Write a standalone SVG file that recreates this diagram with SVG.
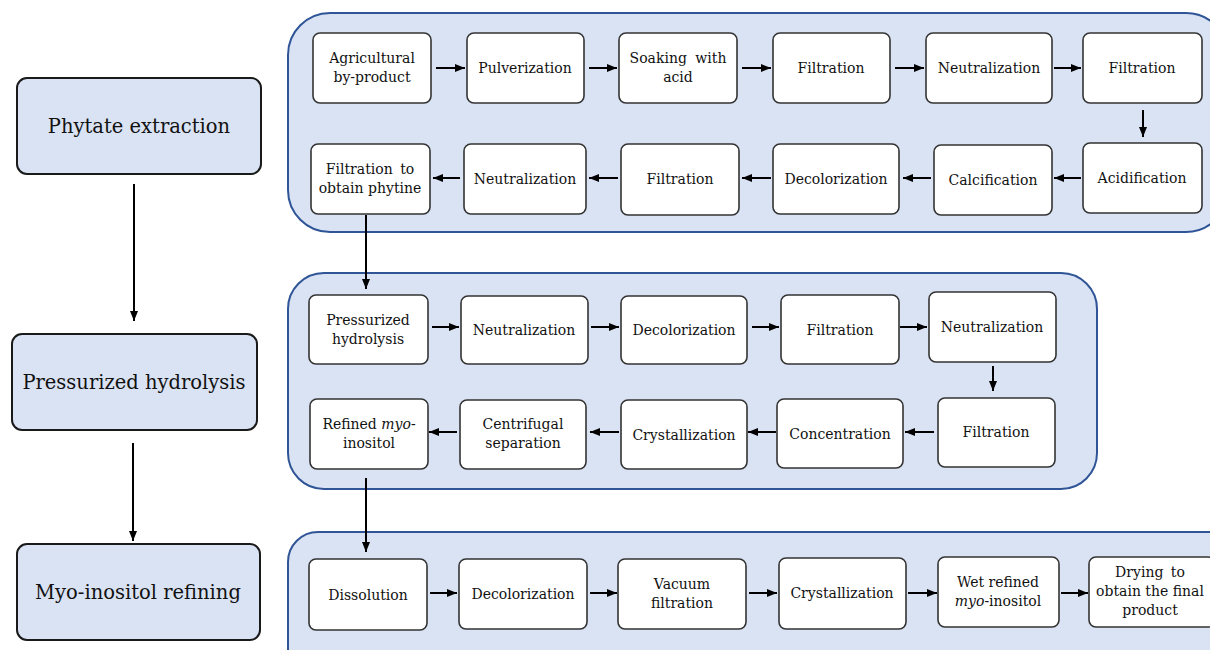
<svg xmlns="http://www.w3.org/2000/svg" width="1210" height="650" viewBox="0 0 1210 650">
<style>
.cont{fill:#DAE3F3;stroke:#2F5597;stroke-width:2}
.stage{fill:#DAE3F3;stroke:#1a1a1a;stroke-width:2}
.box{fill:#ffffff;stroke:#333333;stroke-width:1.6}
.t{font-family:'DejaVu Serif',serif;font-size:14px;fill:#111;text-anchor:middle}
.big{font-family:'DejaVu Serif',serif;font-size:19.5px;fill:#111;text-anchor:middle}
.c line{stroke:#000;stroke-width:2;marker-end:url(#ah)}
</style>
<defs>
<marker id="ah" viewBox="0 0 10 8" refX="10" refY="4" markerWidth="5" markerHeight="4" markerUnits="strokeWidth" orient="auto">
<path d="M0,0 L10,4 L0,8 z" fill="#000"/>
</marker>
</defs>
<rect width="1210" height="650" fill="#ffffff"/>

<g id="containers">
<rect id="cont1" class="cont" x="288" y="13" width="940" height="219" rx="42"/>
<rect id="cont2" class="cont" x="288" y="273" width="809" height="216" rx="36"/>
<rect id="cont3" class="cont" x="288" y="532" width="950" height="150" rx="30"/>
</g>

<g id="stage1"><rect class="stage" x="17" y="78" width="244" height="96" rx="10"/><text class="big" x="139" y="133">Phytate extraction</text></g>
<g id="stage2"><rect class="stage" x="12" y="334" width="245" height="96" rx="10"/><text class="big" x="134" y="389">Pressurized hydrolysis</text></g>
<g id="stage3"><rect class="stage" x="17" y="544" width="243" height="96" rx="10"/><text class="big" x="138" y="599">Myo-inositol refining</text></g>

<g id="n1"><rect class="box" x="313" y="33" width="118" height="70" rx="7"/><text class="t" x="372" y="63">Agricultural</text><text class="t" x="372" y="82">by-product</text></g>
<g id="n2"><rect class="box" x="467" y="33" width="117" height="70" rx="7"/><text class="t" x="525" y="73">Pulverization</text></g>
<g id="n3"><rect class="box" x="619" y="33" width="118" height="70" rx="7"/><text class="t" x="678" y="63" word-spacing="4">Soaking with</text><text class="t" x="678" y="82">acid</text></g>
<g id="n4"><rect class="box" x="773" y="33" width="117" height="70" rx="7"/><text class="t" x="831" y="73">Filtration</text></g>
<g id="n5"><rect class="box" x="926" y="33" width="126" height="70" rx="7"/><text class="t" x="989" y="73">Neutralization</text></g>
<g id="n6"><rect class="box" x="1083" y="33" width="119" height="70" rx="7"/><text class="t" x="1142" y="73">Filtration</text></g>
<g id="n7"><rect class="box" x="1083" y="143" width="119" height="70" rx="7"/><text class="t" x="1142" y="183">Acidification</text></g>
<g id="n8"><rect class="box" x="934" y="145" width="118" height="70" rx="7"/><text class="t" x="993" y="185">Calcification</text></g>
<g id="n9"><rect class="box" x="773" y="144" width="126" height="70" rx="7"/><text class="t" x="836" y="184">Decolorization</text></g>
<g id="n10"><rect class="box" x="621" y="144" width="118" height="71" rx="7"/><text class="t" x="680" y="184">Filtration</text></g>
<g id="n11"><rect class="box" x="464" y="144" width="122" height="70" rx="7"/><text class="t" x="525" y="184">Neutralization</text></g>
<g id="n12"><rect class="box" x="311" y="144" width="119" height="70" rx="7"/><text class="t" x="370" y="174" word-spacing="3">Filtration to</text><text class="t" x="370" y="193">obtain phytine</text></g>

<g id="n13"><rect class="box" x="309" y="295" width="119" height="69" rx="7"/><text class="t" x="368" y="325">Pressurized</text><text class="t" x="368" y="344">hydrolysis</text></g>
<g id="n14"><rect class="box" x="461" y="296" width="127" height="68" rx="7"/><text class="t" x="524" y="335">Neutralization</text></g>
<g id="n15"><rect class="box" x="621" y="296" width="126" height="68" rx="7"/><text class="t" x="684" y="335">Decolorization</text></g>
<g id="n16"><rect class="box" x="781" y="295" width="118" height="69" rx="7"/><text class="t" x="840" y="335">Filtration</text></g>
<g id="n17"><rect class="box" x="929" y="292" width="127" height="70" rx="7"/><text class="t" x="992" y="332">Neutralization</text></g>
<g id="n18"><rect class="box" x="938" y="398" width="117" height="69" rx="7"/><text class="t" x="996" y="437">Filtration</text></g>
<g id="n19"><rect class="box" x="777" y="399" width="126" height="69" rx="7"/><text class="t" x="840" y="439">Concentration</text></g>
<g id="n20"><rect class="box" x="621" y="400" width="126" height="69" rx="7"/><text class="t" x="684" y="440">Crystallization</text></g>
<g id="n21"><rect class="box" x="460" y="400" width="126" height="69" rx="7"/><text class="t" x="523" y="429">Centrifugal</text><text class="t" x="523" y="448">separation</text></g>
<g id="n22"><rect class="box" x="310" y="399" width="118" height="70" rx="7"/><text class="t" x="369" y="429">Refined <tspan font-style="italic">myo</tspan>-</text><text class="t" x="369" y="448">inositol</text></g>

<g id="n23"><rect class="box" x="309" y="559" width="118" height="71" rx="7"/><text class="t" x="368" y="600">Dissolution</text></g>
<g id="n24"><rect class="box" x="459" y="559" width="128" height="70" rx="7"/><text class="t" x="523" y="599">Decolorization</text></g>
<g id="n25"><rect class="box" x="618" y="559" width="128" height="70" rx="7"/><text class="t" x="682" y="589">Vacuum</text><text class="t" x="682" y="608">filtration</text></g>
<g id="n26"><rect class="box" x="779" y="558" width="127" height="71" rx="7"/><text class="t" x="842" y="598">Crystallization</text></g>
<g id="n27"><rect class="box" x="938" y="557" width="121" height="70" rx="7"/><text class="t" x="998" y="587">Wet refined</text><text class="t" x="998" y="606"><tspan font-style="italic">myo</tspan>-inositol</text></g>
<g id="n28"><rect class="box" x="1089" y="557" width="126" height="70" rx="7"/><text class="t" x="1150" y="577" word-spacing="3">Drying to</text><text class="t" x="1150" y="596">obtain the final</text><text class="t" x="1150" y="615">product</text></g>

<g id="connectors" class="c">
<line x1="134" y1="184" x2="134" y2="321"/>
<line x1="133" y1="443" x2="133" y2="541"/>
<line x1="436" y1="68" x2="465" y2="68"/>
<line x1="589" y1="68" x2="617" y2="68"/>
<line x1="742" y1="68" x2="771" y2="68"/>
<line x1="895" y1="68" x2="924" y2="68"/>
<line x1="1054" y1="68" x2="1081" y2="68"/>
<line x1="1143" y1="110" x2="1143" y2="137"/>
<line x1="1081" y1="178" x2="1054" y2="178"/>
<line x1="931" y1="178" x2="903" y2="178"/>
<line x1="771" y1="178" x2="742" y2="178"/>
<line x1="618" y1="178" x2="589" y2="178"/>
<line x1="460" y1="178" x2="433" y2="178"/>
<line x1="366" y1="215" x2="366" y2="289"/>
<line x1="432" y1="327" x2="459" y2="327"/>
<line x1="591" y1="327" x2="619" y2="327"/>
<line x1="752" y1="327" x2="779" y2="327"/>
<line x1="900" y1="327" x2="927" y2="327"/>
<line x1="993" y1="366" x2="993" y2="391"/>
<line x1="934" y1="432" x2="905" y2="432"/>
<line x1="776" y1="432" x2="748" y2="432"/>
<line x1="619" y1="432" x2="590" y2="432"/>
<line x1="457" y1="432" x2="429" y2="432"/>
<line x1="366" y1="478" x2="366" y2="552"/>
<line x1="430" y1="593" x2="457" y2="593"/>
<line x1="590" y1="593" x2="617" y2="593"/>
<line x1="749" y1="593" x2="777" y2="593"/>
<line x1="908" y1="593" x2="937" y2="593"/>
<line x1="1061" y1="593" x2="1088" y2="593"/>
</g>
</svg>
